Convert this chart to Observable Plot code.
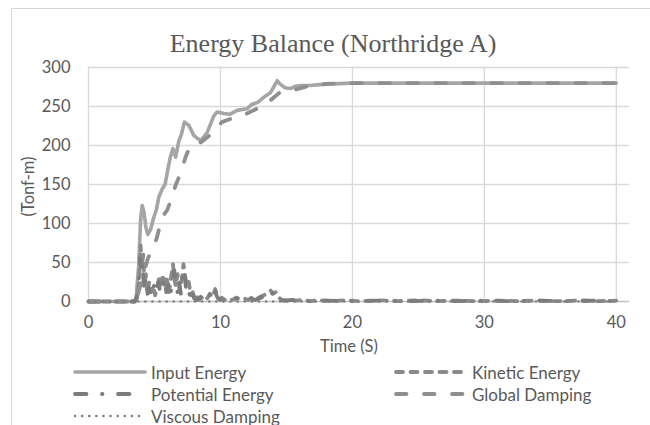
<!DOCTYPE html>
<html>
<head>
<meta charset="utf-8">
<script src="https://cdn.jsdelivr.net/npm/d3@7"></script>
<script src="https://cdn.jsdelivr.net/npm/@observablehq/plot@0.6"></script>
<style>
  html, body { margin: 0; padding: 0; background: #fff; }
  #wrap { position: relative; width: 650px; height: 425px; overflow: hidden; background: #fff; font-family: Lato, "Open Sans", sans-serif; color: #595959; }
  #frame { position: absolute; left: 11px; top: 8px; width: 700px; height: 500px; border-left: 1.5px solid #d9d9d9; border-top: 1.5px solid #d9d9d9; }
  #title { position: absolute; top: 29px; left: 333px; transform: translateX(-50%); white-space: nowrap; font-family: "Liberation Serif", serif; font-size: 26px; line-height: 30px; color: #595959; }
  #chart { position: absolute; left: 0; top: 50px; }
  .leg { position: absolute; display: flex; align-items: center; font-size: 17px; white-space: nowrap; }
  .leg svg { margin-right: 4px; }
</style>
</head>
<body>
<div id="wrap">
  <div id="frame"></div>
  <div id="title">Energy Balance (Northridge A)</div>
  <div id="chart"></div>
  <div id="legend"></div>
</div>
<script>
// ---- data ----
const seriesNames = ["Input Energy", "Kinetic Energy", "Potential Energy", "Global Damping", "Viscous Damping"];

const inputT = [0, 3.4, 3.6, 3.8, 3.95, 4.07, 4.2, 4.35, 4.5, 4.7, 4.95, 5.15, 5.33, 5.58, 5.8, 6.0, 6.2, 6.4, 6.6, 6.85, 7.05, 7.27, 7.6, 7.98, 8.5, 9.0, 9.5, 9.75, 10.25, 10.7, 11.26, 12.0, 12.4, 12.8, 13.3, 13.8, 14.3, 14.5, 14.9, 15.3, 15.7, 16.1, 16.8, 17.5, 18.5, 20, 25, 30, 35, 40];
const inputV = [0, 0, 3, 45, 105, 123, 115, 95, 86, 92, 108, 118, 134, 144, 150, 168, 185, 196, 185, 206, 215, 230, 226, 213, 206, 217, 238, 243, 241, 240, 245, 247, 253, 255, 262, 268, 283, 279, 274, 273, 276, 277, 277, 278, 279, 280, 280, 280, 280, 280];

const kineticT = [0, 3.5, 3.7, 3.85, 3.95, 4.05, 4.15, 4.25, 4.35, 4.45, 4.6, 4.75, 4.9, 5.05, 5.2, 5.35, 5.5, 5.65, 5.8, 5.95, 6.1, 6.25, 6.4, 6.5, 6.6, 6.75, 6.9, 7.05, 7.2, 7.3, 7.45, 7.6, 7.75, 7.9, 8.05, 8.2, 8.4, 8.6, 8.8, 9.0, 9.2, 9.4, 9.6, 9.75, 9.9, 10.1, 10.3, 10.6, 10.9, 11.2, 11.5, 11.8, 12.1, 12.4, 12.7, 13.0, 13.3, 13.6, 13.8, 14.0, 14.2, 14.4, 14.6, 14.9, 15.3, 15.7, 16.2, 16.8, 17.5, 18.5, 19.5, 20.5, 22, 23.5, 25, 26.5, 28, 29.5, 31, 32.5, 34, 35.5, 37, 38.5, 40];
const kineticV = [0, 0, 5, 30, 72, 45, 60, 20, 35, 10, 25, 12, 20, 8, 18, 30, 22, 35, 18, 28, 12, 30, 48, 30, 20, 35, 15, 25, 48, 35, 20, 25, 8, 12, 3, 6, 2, 5, 8, 4, 10, 6, 16, 8, 3, 5, 2, 4, 2, 5, 3, 4, 2, 5, 3, 6, 8, 12, 14, 10, 12, 6, 2, 1, 3, 1, 2, 0.5, 1.5, 0.5, 1.5, 0.5, 1.5, 0.5, 1.5, 0.5, 1.2, 0.4, 1.2, 0.4, 1.2, 0.4, 1.2, 0.4, 1];

const potentialT = [0, 3.5, 3.75, 3.9, 4.0, 4.1, 4.2, 4.3, 4.45, 4.55, 4.7, 4.85, 5.0, 5.15, 5.3, 5.45, 5.6, 5.75, 5.9, 6.05, 6.2, 6.35, 6.5, 6.6, 6.75, 6.85, 7.0, 7.15, 7.25, 7.4, 7.55, 7.7, 7.85, 8.0, 8.2, 8.5, 8.7, 8.9, 9.1, 9.3, 9.5, 9.65, 9.8, 10.0, 10.4, 10.8, 11.3, 11.7, 12.2, 12.6, 13.1, 13.4, 13.7, 13.9, 14.1, 14.3, 14.5, 14.8, 15.5, 16.5, 18, 20, 22, 24, 26, 28, 30, 32, 34, 36, 38, 40];
const potentialV = [0, 0, 10, 55, 35, 50, 15, 28, 8, 18, 6, 15, 22, 12, 25, 10, 20, 30, 12, 22, 8, 25, 40, 18, 12, 28, 10, 38, 42, 15, 20, 5, 14, 4, 2, 6, 3, 9, 5, 12, 20, 10, 4, 2, 4, 1, 4, 2, 5, 2, 5, 9, 15, 10, 14, 8, 3, 1, 2, 0.5, 1.2, 0.4, 1.2, 0.4, 1.2, 0.4, 1.2, 0.4, 1.2, 0.4, 1.2, 0.5];

const globalT = [0, 3.6, 4.0, 4.5, 5.15, 5.58, 5.96, 6.34, 6.6, 6.97, 7.35, 7.73, 8.5, 9.5, 10.1, 10.76, 12.0, 13.0, 13.8, 14.5, 15.55, 16.8, 18, 20, 25, 30, 35, 40];
const globalV = [0, 0, 25, 55, 80, 108, 117, 134, 149, 164, 185, 200, 204, 217, 230, 234, 241, 249, 258, 268, 271, 277, 279, 280, 280, 280, 280, 280];

const viscousT = [0, 5, 10, 15, 20, 25, 30, 35, 40];
const viscousV = [0, 0, 0, 0, 0, 0, 0, 0, 0];

const xTicks = [0, 10, 20, 30, 40];
const yTicks = [0, 50, 100, 150, 200, 250, 300];

// ---- styles ----
const styles = {
  "Input Energy":    {stroke: "#a5a5a5", dash: null,               width: 3.6},
  "Kinetic Energy":  {stroke: "#8a8a8a", dash: "7,7.5",            width: 3.8},
  "Potential Energy":{stroke: "#7c7c7c", dash: "11.5,15.5,0.5,15.5", width: 3.8},
  "Global Damping":  {stroke: "#8f8f8f", dash: "10.5,17.5",        width: 3.8},
  "Viscous Damping": {stroke: "#808080", dash: "0.1,7",            width: 2.6}
};

const toRows = (T, V) => T.map((t, i) => ({t, v: V[i]}));
const data = {
  "Input Energy": toRows(inputT, inputV),
  "Kinetic Energy": toRows(kineticT, kineticV),
  "Potential Energy": toRows(potentialT, potentialV),
  "Global Damping": toRows(globalT, globalV),
  "Viscous Damping": toRows(viscousT, viscousV)
};

const lineMarks = seriesNames.map(name => Plot.line(data[name], {
  x: "t", y: "v",
  stroke: styles[name].stroke,
  strokeWidth: styles[name].width,
  strokeDasharray: styles[name].dash,
  strokeLinecap: "round",
  strokeLinejoin: "round"
}));

const chart = Plot.plot({
  width: 650,
  height: 310,
  marginLeft: 88,
  marginRight: 21,
  marginTop: 17,
  marginBottom: 59,
  style: {fontFamily: "Lato, 'Open Sans', sans-serif", fontSize: "16.5px", color: "#595959", background: "transparent", overflow: "visible"},
  x: {domain: [0, 41], ticks: xTicks, label: null},
  y: {domain: [0, 300], ticks: yTicks, label: null},
  marks: [
    Plot.ruleX(xTicks, {stroke: "#d9d9d9", strokeWidth: 1.3}),
    Plot.ruleY(yTicks.filter(d => d > 0), {stroke: "#d9d9d9", strokeWidth: 1.3}),
    Plot.ruleY([0], {stroke: "#bfbfbf", strokeWidth: 1.3}),
    Plot.axisX({ticks: xTicks, tickSize: 0, tickPadding: 15, label: null, fill: "#595959"}),
    Plot.axisY({ticks: yTicks, tickSize: 0, tickPadding: 18, label: null, fill: "#595959"}),
    Plot.text(["Time (S)"], {frameAnchor: "bottom", dy: 45, dx: -10, fill: "#595959", fontSize: 16.5, lineAnchor: "middle"}),
    Plot.text(["(Tonf-m)"], {frameAnchor: "left", dx: -60, dy: 2, rotate: -90, fill: "#595959", fontSize: 16.5, textAnchor: "middle", lineAnchor: "middle"}),
    ...lineMarks
  ]
});
document.getElementById("chart").appendChild(chart);

// ---- legend ----
const legendPos = [
  {name: "Input Energy", x: 73, y: 372},
  {name: "Kinetic Energy", x: 394, y: 372},
  {name: "Potential Energy", x: 73, y: 394},
  {name: "Global Damping", x: 394, y: 394},
  {name: "Viscous Damping", x: 73, y: 416}
];
const legend = document.getElementById("legend");
legendPos.forEach(p => {
  const s = styles[p.name];
  const div = document.createElement("div");
  div.className = "leg";
  div.style.left = p.x + "px";
  div.style.top = (p.y - 11) + "px";
  div.style.height = "22px";
  div.innerHTML = `<svg width="74" height="10"><line x1="2" x2="72" y1="5" y2="5" stroke="${s.stroke}" stroke-width="${s.width}" stroke-linecap="round" ${s.dash ? `stroke-dasharray="${s.dash}"` : ""}/></svg><span>${p.name}</span>`;
  legend.appendChild(div);
});
</script>
</body>
</html>
